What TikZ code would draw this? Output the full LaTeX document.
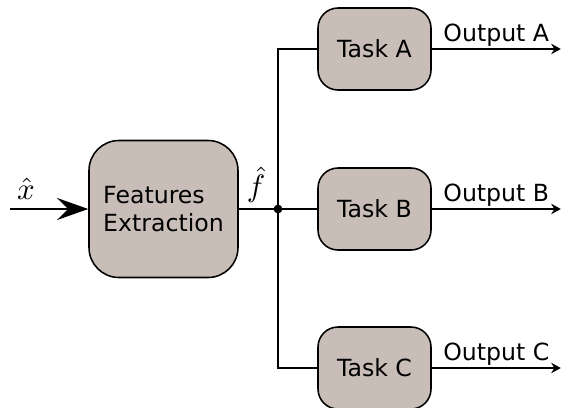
\documentclass[tikz,border=0pt]{standalone}
\usepackage{fontspec}
\setmainfont{DejaVu Sans}
\usetikzlibrary{arrows.meta,positioning}
\definecolor{boxfill}{HTML}{C8BEB7}
\definecolor{inkline}{HTML}{000000}

\begin{document}
\begin{tikzpicture}[
  font=\fontsize{16.8}{20}\selectfont,
  bigbox/.style={rounded corners=0.75cm, draw=inkline, fill=boxfill, line width=1.1pt,
                 minimum width=3.725cm, minimum height=3.425cm, align=left, inner sep=2pt},
  taskbox/.style={rounded corners=0.5cm, draw=inkline, fill=boxfill, line width=1.1pt,
                  minimum width=2.825cm, minimum height=2.05cm, inner sep=2pt},
  mainflow/.style={line width=1.8pt, -{Stealth[length=0.78cm, width=0.55cm, inset=0.28cm]}},
  outflow/.style={line width=1.8pt, -{Stealth[length=0.24cm, width=0.26cm, inset=0.08cm]}},
  branch/.style={line width=0.8pt},
  lbl/.style={inner sep=1pt},
  mlbl/.style={inner sep=0.5pt, font=\normalsize, scale=2.2},
]
\useasboundingbox (0,0) rectangle (14.025,10.175);

% feature extractor
\node[bigbox] (fe) at (4.0875, 4.95) {Features\\Extraction};
\coordinate (xin) at (0.25, 4.95);
\draw[mainflow] (xin) -- (fe.west);
\node[mlbl] (xlbl) at (0.65, 5.45) {$\hat{x}$};

% split point
\coordinate (jn) at (6.95, 4.95);
\draw[line width=1.8pt] (fe.east) -- (jn);
\fill (jn) circle (0.11);
\node[mlbl] (flbl) at (6.4, 5.55) {$\hat{f}$};

% task heads
\node[taskbox] (ta) at (9.3625, 8.95) {Task A};
\node[taskbox] (tb) at (9.3625, 4.95) {Task B};
\node[taskbox] (tc) at (9.3625, 0.975) {Task C};

\draw[branch] (jn) |- (ta.west);
\draw[line width=1.8pt] (jn) -- (tb.west);
\draw[branch] (jn) |- (tc.west);

% outputs
\coordinate (oa) at (14.02, 8.95);
\coordinate (ob) at (14.02, 4.95);
\coordinate (oc) at (14.02, 0.975);
\draw[outflow] (ta.east) -- node[midway, above, lbl] {Output A} (oa);
\draw[outflow] (tb.east) -- node[midway, above, lbl] {Output B} (ob);
\draw[outflow] (tc.east) -- node[midway, above, lbl] {Output C} (oc);
\end{tikzpicture}
\end{document}
